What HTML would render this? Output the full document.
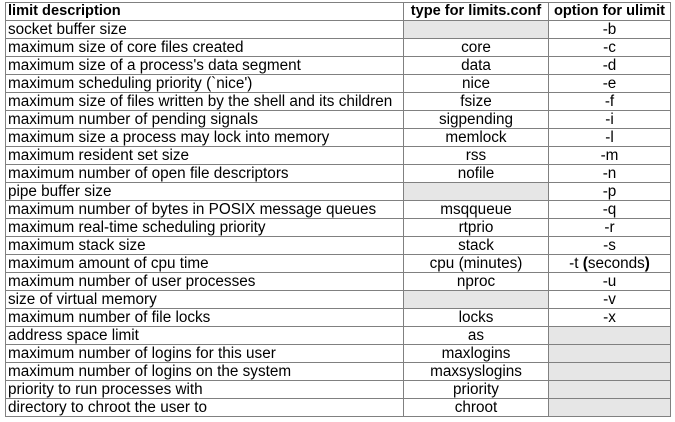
<!DOCTYPE html>
<html><head><style>
html,body{margin:0;padding:0;background:#fff;width:675px;height:422px;overflow:hidden}
table{position:absolute;left:5px;top:2px;border-collapse:collapse;font-family:"Liberation Sans",Arial,sans-serif;font-size:15.3px;color:#000}
td,th{border:1px solid #808080;height:17px;padding:0 0 0 2px;line-height:17px;white-space:nowrap;overflow:hidden}
tr{height:18px}
th{font-weight:bold;text-align:left;font-size:14.6px}
td.c,th.c{text-align:center;padding:0}
.g{background:#e6e6e6}
table{table-layout:fixed;width:665px}
col.a{width:398px}col.b{width:145px}col.d{width:122px}
</style></head><body>
<table>
<colgroup><col class="a"><col class="b"><col class="d"></colgroup>
<tr><th>limit description</th><th class="c">type for limits.conf</th><th class="c">option for ulimit</th></tr>
<tr><td>socket buffer size</td><td class="g"></td><td class="c">-b</td></tr>
<tr><td>maximum size of core files created</td><td class="c">core</td><td class="c">-c</td></tr>
<tr><td>maximum size of a process's data segment</td><td class="c">data</td><td class="c">-d</td></tr>
<tr><td>maximum scheduling priority (`nice')</td><td class="c">nice</td><td class="c">-e</td></tr>
<tr><td>maximum size of files written by the shell and its children</td><td class="c">fsize</td><td class="c">-f</td></tr>
<tr><td>maximum number of pending signals</td><td class="c">sigpending</td><td class="c">-i</td></tr>
<tr><td>maximum size a process may lock into memory</td><td class="c">memlock</td><td class="c">-l</td></tr>
<tr><td>maximum resident set size</td><td class="c">rss</td><td class="c">-m</td></tr>
<tr><td>maximum number of open file descriptors</td><td class="c">nofile</td><td class="c">-n</td></tr>
<tr><td>pipe buffer size</td><td class="g"></td><td class="c">-p</td></tr>
<tr><td>maximum number of bytes in POSIX message queues</td><td class="c">msqqueue</td><td class="c">-q</td></tr>
<tr><td>maximum real-time scheduling priority</td><td class="c">rtprio</td><td class="c">-r</td></tr>
<tr><td>maximum stack size</td><td class="c">stack</td><td class="c">-s</td></tr>
<tr><td>maximum amount of cpu time</td><td class="c">cpu (minutes)</td><td class="c">-t <b>(</b>seconds<b>)</b></td></tr>
<tr><td>maximum number of user processes</td><td class="c">nproc</td><td class="c">-u</td></tr>
<tr><td>size of virtual memory</td><td class="g"></td><td class="c">-v</td></tr>
<tr><td>maximum number of file locks</td><td class="c">locks</td><td class="c">-x</td></tr>
<tr><td>address space limit</td><td class="c">as</td><td class="g"></td></tr>
<tr><td>maximum number of logins for this user</td><td class="c">maxlogins</td><td class="g"></td></tr>
<tr><td>maximum number of logins on the system</td><td class="c">maxsyslogins</td><td class="g"></td></tr>
<tr><td>priority to run processes with</td><td class="c">priority</td><td class="g"></td></tr>
<tr><td>directory to chroot the user to</td><td class="c">chroot</td><td class="g"></td></tr>
</table>
</body></html>
